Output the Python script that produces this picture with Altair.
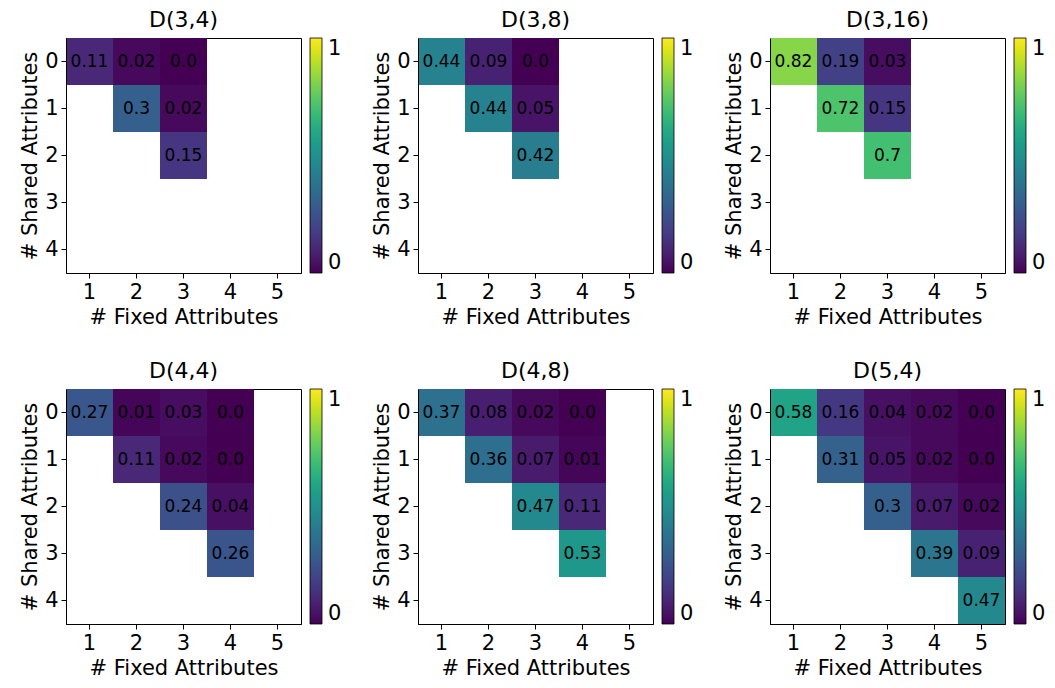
import altair as alt
import pandas as pd

titles = ["D(3,4)", "D(3,8)", "D(3,16)", "D(4,4)", "D(4,8)", "D(5,4)"]
fixed_ticks = [1, 2, 3, 4, 5]
shared_ticks = [0, 1, 2, 3, 4]

# rows: shared attributes s; entries: fixed attributes s+1 .. n
d34 = [[0.11, 0.02, 0.0], [0.3, 0.02], [0.15]]
d38 = [[0.44, 0.09, 0.0], [0.44, 0.05], [0.42]]
d316 = [[0.82, 0.19, 0.03], [0.72, 0.15], [0.7]]
d44 = [[0.27, 0.01, 0.03, 0.0], [0.11, 0.02, 0.0], [0.24, 0.04], [0.26]]
d48 = [[0.37, 0.08, 0.02, 0.0], [0.36, 0.07, 0.01], [0.47, 0.11], [0.53]]
d54 = [[0.58, 0.16, 0.04, 0.02, 0.0], [0.31, 0.05, 0.02, 0.0],
       [0.3, 0.07, 0.02], [0.39, 0.09], [0.47]]
panels = [d34, d38, d316, d44, d48, d54]

FONT = "DejaVu Sans"
SIZE = 235
FS = 21


def to_df(vals):
    rows = []
    for s, row in enumerate(vals):
        for k, v in enumerate(row):
            rows.append({"fixed": s + 1 + k, "shared": s, "value": v, "label": str(v)})
    return pd.DataFrame(rows)


def panel(title, vals):
    df = to_df(vals)
    base = alt.Chart(df)
    x = alt.X("fixed:O",
              scale=alt.Scale(domain=fixed_ticks, paddingInner=0, paddingOuter=0),
              axis=alt.Axis(title="# Fixed Attributes", labelAngle=0))
    y = alt.Y("shared:O",
              scale=alt.Scale(domain=shared_ticks, paddingInner=0, paddingOuter=0),
              axis=alt.Axis(title="# Shared Attributes"))
    rect = base.mark_rect().encode(
        x=x, y=y,
        color=alt.Color("value:Q",
                        scale=alt.Scale(scheme="viridis", domain=[0, 1]),
                        legend=alt.Legend(title=None, orient="right", direction="vertical",
                                          gradientLength=SIZE, gradientThickness=12,
                                          values=[0, 1], format=".0f",
                                          labelFontSize=FS, labelFont=FONT,
                                          labelColor="black", labelBaseline="middle",
                                          labelOffset=6, offset=9,
                                          gradientStrokeColor="black",
                                          gradientStrokeWidth=0.8)),
    )
    text = base.mark_text(fontSize=17, font=FONT, color="black").encode(
        x=x, y=y, text="label:N")
    return alt.layer(rect, text).properties(
        width=SIZE, height=SIZE,
        title=alt.Title(title, fontSize=22, font=FONT, fontWeight="normal",
                        anchor="middle", frame="group", offset=6, color="black"),
    )


charts = [panel(t, v) for t, v in zip(titles, panels)]
row1 = alt.hconcat(*charts[:3], spacing=28).resolve_scale(color="independent")
row2 = alt.hconcat(*charts[3:], spacing=28).resolve_scale(color="independent")
chart = alt.vconcat(row1, row2, spacing=31).resolve_scale(color="independent").properties(
    padding={"left": 11, "top": 0, "right": 0, "bottom": 0}
).configure_axis(
    labelFont=FONT, titleFont=FONT, labelFontSize=FS, titleFontSize=FS,
    titleFontWeight="normal", labelColor="black", titleColor="black",
    tickColor="black", domainColor="black", tickSize=5, grid=False,
    labelPadding=3, titlePadding=4,
).configure_view(stroke="black", strokeWidth=1)

chart.save("out.html", embed_options={"renderer": "svg", "actions": False})
